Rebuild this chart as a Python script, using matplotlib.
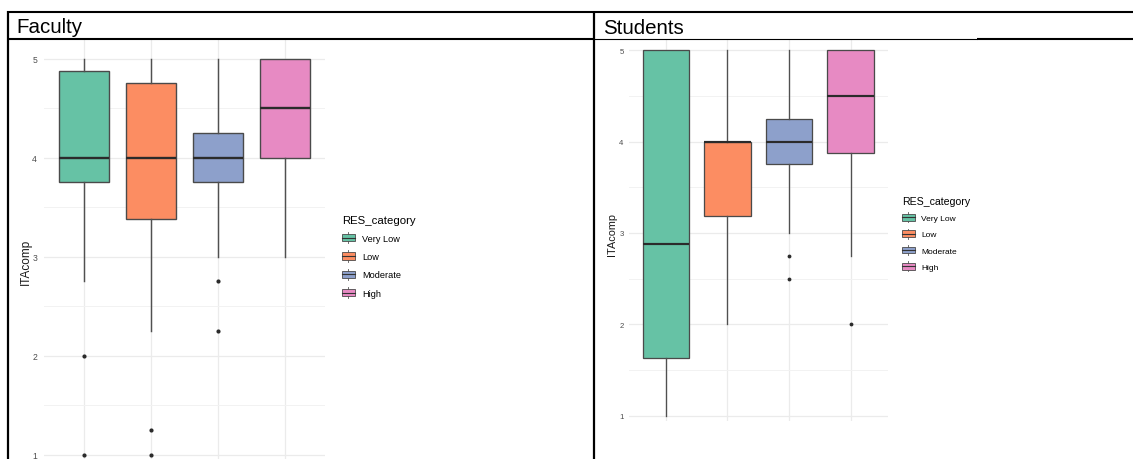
import matplotlib
matplotlib.use('Agg')
import matplotlib.pyplot as plt
from matplotlib.patches import Rectangle, Patch
from matplotlib.lines import Line2D
from matplotlib.legend_handler import HandlerBase

plt.rcParams['font.family'] = ['Liberation Sans', 'DejaVu Sans']

categories = ['Very Low', 'Low', 'Moderate', 'High']
colors = ['#66C2A5', '#FC8D62', '#8DA0CB', '#E78AC3']

# Faculty
fac_q1 = [3.75, 3.375, 3.75, 4.0]
fac_med = [4.0, 4.0, 4.0, 4.5]
fac_q3 = [4.875, 4.75, 4.25, 5.0]
fac_lo = [2.75, 2.25, 3.0, 3.0]
fac_hi = [5.0, 5.0, 5.0, 5.0]
fac_out = [[2.0, 1.0], [1.25, 1.0], [2.75, 2.25], []]

# Students
stu_q1 = [1.625, 3.1875, 3.75, 3.875]
stu_med = [2.875, 4.0, 4.0, 4.5]
stu_q3 = [5.0, 4.0, 4.25, 5.0]
stu_lo = [1.0, 2.0, 3.0, 2.75]
stu_hi = [5.0, 5.0, 5.0, 5.0]
stu_out = [[], [], [2.75, 2.5], [2.0]]

W, H = 1133, 460
fig = plt.figure(figsize=(W / 100, H / 100), dpi=100)
fig.patch.set_facecolor('white')


def px_axes(x0, x1, y_top, y_bot):
    return fig.add_axes([x0 / W, 1 - y_bot / H, (x1 - x0) / W, (y_bot - y_top) / H])


class BoxKey(HandlerBase):
    def create_artists(self, legend, orig, xd, yd, w, h, fs, trans):
        x0, y0 = -xd, -yd
        r = Rectangle((x0, y0 + 0.18 * h), w, 0.64 * h, facecolor=orig.get_facecolor(),
                      edgecolor='#4a4a4a', lw=0.6, transform=trans)
        m = Line2D([x0, x0 + w], [y0 + h / 2] * 2, color='#333333', lw=0.8, transform=trans)
        s1 = Line2D([x0 + w / 2] * 2, [y0, y0 + 0.18 * h], color='#555555', lw=0.6, transform=trans)
        s2 = Line2D([x0 + w / 2] * 2, [y0 + 0.82 * h, y0 + h], color='#555555', lw=0.6, transform=trans)
        return [s1, s2, r, m]


def draw_panel(ax, q1, med, q3, lo, hi, out, ylim, sc, tick_fs, tick_pad, lab_fs, lab_x, lab_y):
    stats = []
    for i in range(len(categories)):
        stats.append(dict(q1=q1[i], med=med[i], q3=q3[i], whislo=lo[i], whishi=hi[i],
                          fliers=out[i], label=categories[i]))
    bp = ax.bxp(stats, positions=[1, 2, 3, 4], widths=0.75, patch_artist=True, showcaps=False,
                boxprops=dict(edgecolor='#4a4a4a', linewidth=1.0 * sc),
                medianprops=dict(color='#2b2b2b', linewidth=1.7 * sc),
                whiskerprops=dict(color='#505050', linewidth=1.05 * sc),
                flierprops=dict(marker='o', markersize=3.0 * sc, markerfacecolor='#2b2b2b',
                                markeredgecolor='none'))
    for patch, c in zip(bp['boxes'], colors):
        patch.set_facecolor(c)
    ax.set_xlim(0.4, 4.6)
    ax.set_ylim(*ylim)
    ax.set_xticks([1, 2, 3, 4])
    ax.set_xticklabels([])
    ax.set_yticks([1, 2, 3, 4, 5])
    ax.set_yticks([1.5, 2.5, 3.5, 4.5], minor=True)
    ax.set_axisbelow(True)
    ax.grid(which='major', color='#EBEBEB', lw=0.9)
    ax.grid(which='minor', axis='y', color='#F2F2F2', lw=0.7)
    ax.tick_params(which='both', length=0, labelsize=tick_fs, labelcolor='#4D4D4D', pad=tick_pad)
    for s in ax.spines.values():
        s.set_visible(False)
    ax.set_ylabel('ITAcomp', fontsize=lab_fs, color='#1a1a1a')
    ax.yaxis.label.set_va('center')
    ax.yaxis.set_label_coords(lab_x, lab_y)


# Faculty panel
ax1 = px_axes(44, 325, 39.7, 475.3)
draw_panel(ax1, fac_q1, fac_med, fac_q3, fac_lo, fac_hi, fac_out, (0.8, 5.2),
           1.0, 6.2, 5, 8.5, -0.063, 0.49)

# Students panel
ax2 = px_axes(629, 887.5, 40.3, 422)
draw_panel(ax2, stu_q1, stu_med, stu_q3, stu_lo, stu_hi, stu_out, (0.94, 5.12),
           0.92, 5.6, 3.8, 7.8, -0.066, 0.49)

handles = [Patch(facecolor=c) for c in colors]
leg1 = fig.legend(handles, categories, title='RES_category', loc='upper left',
                  bbox_to_anchor=(342 / W, 1 - 216 / H), frameon=False, fontsize=6.6,
                  title_fontsize=8.2, handler_map={Patch: BoxKey()}, handlelength=1.4,
                  handleheight=1.5, labelspacing=0.78, handletextpad=0.8, borderpad=0,
                  borderaxespad=0)
leg1._legend_box.align = 'left'
leg2 = fig.legend(handles, categories, title='RES_category', loc='upper left',
                  bbox_to_anchor=(902 / W, 1 - 197 / H), frameon=False, fontsize=6.0,
                  title_fontsize=7.6, handler_map={Patch: BoxKey()}, handlelength=1.5,
                  handleheight=1.5, labelspacing=0.74, handletextpad=0.8, borderpad=0,
                  borderaxespad=0)
leg2._legend_box.align = 'left'


# table frame around the two panels
def hline(x0, x1, y, lw):
    fig.add_artist(Line2D([x0 / W, x1 / W], [1 - y / H] * 2, color='black', lw=lw,
                          transform=fig.transFigure, solid_capstyle='butt'))


def vline(x, y0, y1, lw):
    fig.add_artist(Line2D([x / W] * 2, [1 - y0 / H, 1 - y1 / H], color='black', lw=lw,
                          transform=fig.transFigure, solid_capstyle='butt'))


hline(7, W, 12.5, 1.5)
hline(7, 593, 40, 1.5)
hline(593, 977, 40, 0.8)
hline(977, W, 40, 1.5)
vline(7.5, 11.5, H, 1.6)
vline(593.5, 11.5, H, 1.6)

fig.text(16 / W, 1 - 33 / H, 'Faculty', fontsize=14.8, va='baseline', ha='left')
fig.text(603 / W, 1 - 33.5 / H, 'Students', fontsize=14.8, va='baseline', ha='left')

fig.savefig('out.png', dpi=100, facecolor='white')
